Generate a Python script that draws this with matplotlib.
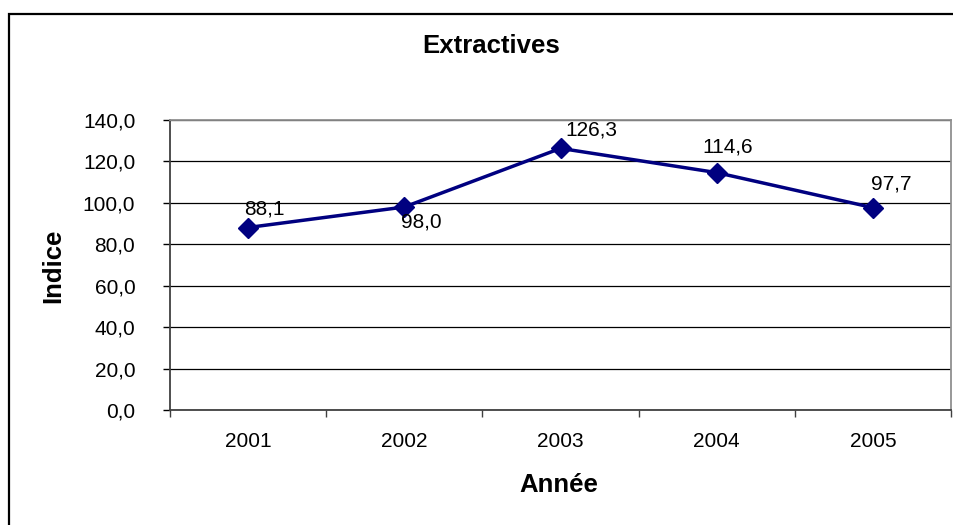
import matplotlib
matplotlib.use("Agg")
import matplotlib.pyplot as plt
from matplotlib.patches import Rectangle

years = ["2001", "2002", "2003", "2004", "2005"]
indice = [88.1, 98.0, 126.3, 114.6, 97.7]
y_ticks = [0, 20, 40, 60, 80, 100, 120, 140]

# label offsets in pixels (Excel places them a bit unevenly)
label_offsets = [(16, 19), (17, -15), (31, 18), (11, 26), (18, 24)]

plt.rcParams["font.family"] = ["Liberation Sans", "DejaVu Sans"]

fig = plt.figure(figsize=(9.54, 5.25), dpi=100)
W, H = 954, 525
ax = fig.add_axes([170 / W, 1 - 410 / H, (951 - 170) / W, (410 - 120) / H])

# outer chart frame (runs off the right and bottom edges)
fig.patches.append(Rectangle((9 / W, -0.1), 1.2, 1 - 14 / H + 0.1,
                             transform=fig.transFigure, fill=False,
                             ec="black", lw=1.6, clip_on=False))

x = list(range(1, len(years) + 1))
ax.plot(x, indice, "-", color="#000080", lw=2.5, marker="D", ms=10,
        mfc="#000080", mec="#000080", zorder=5)

for xi, v, (dx, dy) in zip(x, indice, label_offsets):
    ax.annotate(f"{v:.1f}".replace(".", ","), (xi, v), xytext=(dx, dy),
                textcoords="offset pixels", ha="center", va="center",
                fontsize=15, zorder=6)

ax.set_xlim(0.5, len(years) + 0.5)
ax.set_ylim(0, 140)
ax.set_yticks(y_ticks)
ax.set_yticklabels([f"{t:.1f}".replace(".", ",") for t in y_ticks], fontsize=15)
ax.set_xticks(x)
ax.set_xticklabels(years, fontsize=15)
ax.set_xticks([i + 0.5 for i in range(len(years) + 1)], minor=True)
ax.tick_params(axis="x", which="major", length=0, pad=16)
ax.tick_params(axis="x", which="minor", length=5, width=1, color="#404040")
ax.tick_params(axis="y", length=5, width=1, color="black", pad=20)

ax.yaxis.grid(True, color="black", lw=0.9)
ax.set_axisbelow(True)
for side in ["top", "right"]:
    ax.spines[side].set_color("#909090")
    ax.spines[side].set_linewidth(1.3)
for side in ["left", "bottom"]:
    ax.spines[side].set_color("#404040")
    ax.spines[side].set_linewidth(1.3)

fig.text(491 / W, 1 - 46 / H, "Extractives", ha="center", va="center",
         fontsize=18.5, fontweight="bold")
fig.text(559 / W, 1 - 485 / H, "Année", ha="center", va="center",
         fontsize=18.5, fontweight="bold")
fig.text(53 / W, 1 - 266 / H, "Indice", ha="center", va="center",
         fontsize=18.5, fontweight="bold", rotation=90)

fig.savefig("out.png", dpi=100)
